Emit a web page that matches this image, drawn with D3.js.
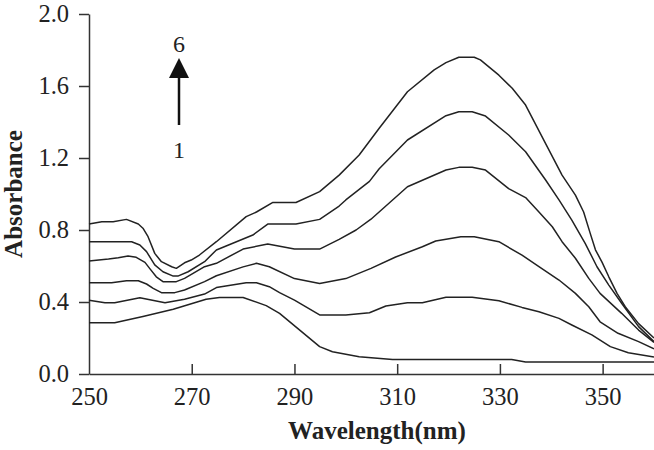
<!DOCTYPE html>
<html>
<head>
<meta charset="utf-8">
<script src="https://cdn.jsdelivr.net/npm/d3@7"></script>
<style>
  body { margin: 0; background: #fff; }
  svg text { font-family: "Liberation Serif", "Times New Roman", serif; fill: #222; }
</style>
</head>
<body>
<div id="container"></div>
<script>
// absorbance spectra, [wavelength nm, absorbance]
const curve1 = [[250,0.285],[255,0.285],[260.5,0.32],[266.4,0.36],[272.8,0.415],[275.4,0.425],[280,0.425],[284.5,0.38],[287.1,0.337],[294.9,0.152],[297.4,0.124],[302.6,0.096],[309.1,0.081],[332.3,0.08],[335,0.067],[360,0.067]];
const curve2 = [[250,0.41],[253.1,0.396],[255,0.396],[259.9,0.424],[264.8,0.396],[268.6,0.415],[272.5,0.444],[274.8,0.48],[280.6,0.507],[282.6,0.507],[285.1,0.485],[287.1,0.452],[290,0.41],[294.9,0.328],[300,0.328],[304.6,0.34],[307.8,0.378],[312,0.396],[314.9,0.396],[319.5,0.426],[324.6,0.426],[329.8,0.407],[334.3,0.37],[337.6,0.346],[341.5,0.309],[344,0.272],[347.9,0.217],[351.5,0.152],[355,0.118],[360,0.095]];
const curve3 = [[250,0.507],[254.4,0.507],[257.3,0.518],[259.6,0.518],[261.2,0.5],[262.5,0.476],[264.1,0.452],[266.7,0.452],[268.6,0.467],[272.5,0.513],[274.8,0.546],[280,0.595],[282.6,0.615],[285.1,0.596],[290,0.53],[294.9,0.503],[300,0.53],[304.9,0.587],[309.7,0.65],[314.9,0.707],[317.5,0.739],[322.4,0.763],[325,0.763],[329.8,0.735],[334.3,0.66],[337.6,0.596],[341.5,0.522],[344.7,0.448],[347.3,0.374],[349.5,0.29],[353,0.226],[357,0.18],[360,0.14]];
const curve4 = [[250,0.628],[253.8,0.639],[255.7,0.646],[257.6,0.655],[259.2,0.648],[260.9,0.62],[261.8,0.587],[263.1,0.54],[264.4,0.513],[267,0.513],[268.6,0.531],[272.5,0.596],[274.8,0.615],[280,0.694],[284.8,0.722],[290,0.694],[294.9,0.694],[298.7,0.748],[302,0.8],[304.9,0.86],[312,1.04],[319.5,1.133],[322,1.148],[324.6,1.148],[327.2,1.133],[331.7,1.03],[335,0.98],[337.6,0.9],[340.2,0.818],[342.1,0.735],[344.7,0.643],[347.3,0.531],[349.5,0.448],[353.7,0.337],[357,0.244],[360,0.175]];
const curve5 = [[250,0.735],[258.3,0.735],[259.9,0.717],[261.2,0.68],[262.8,0.606],[264.4,0.568],[266.4,0.544],[267.3,0.544],[269.3,0.568],[272.5,0.624],[274.8,0.689],[281.9,0.772],[284.8,0.833],[290.3,0.833],[294.9,0.859],[298.7,0.933],[300,0.967],[304.6,1.07],[306.5,1.14],[312,1.3],[319.5,1.435],[322,1.457],[324.6,1.457],[327.2,1.433],[331.7,1.328],[335,1.235],[338.9,1.078],[341.5,0.967],[344,0.855],[346.6,0.726],[348.9,0.596],[351.2,0.494],[353.7,0.393],[357,0.263],[360,0.18]];
const curve6 = [[250,0.833],[252.5,0.846],[254.7,0.846],[257.3,0.859],[259.6,0.833],[260.5,0.81],[261.5,0.763],[262.8,0.67],[264.1,0.624],[266.1,0.596],[267,0.587],[268.6,0.618],[269.9,0.633],[271.5,0.661],[274.8,0.735],[280.6,0.874],[282.6,0.9],[285.8,0.953],[290.3,0.953],[294.9,1.013],[298.7,1.105],[302.6,1.217],[306.5,1.365],[312,1.568],[317.2,1.69],[319.5,1.73],[322,1.76],[325,1.76],[326.2,1.745],[329.8,1.66],[332.4,1.587],[335,1.494],[338.9,1.28],[342.1,1.105],[344.7,0.994],[346.3,0.9],[347.6,0.78],[348.6,0.69],[349.9,0.62],[351.2,0.54],[352.8,0.448],[354.4,0.374],[357,0.28],[360,0.2]];
const curves = [curve1, curve2, curve3, curve4, curve5, curve6];

const xTicks = [250, 270, 290, 310, 330, 350];
const yTicks = [0, 0.4, 0.8, 1.2, 1.6, 2.0];

const width = 654, height = 450;
const marginLeft = 89, plotRight = 654, plotTop = 14, plotBottom = 374;

const svg = d3.select("#container")
  .append("svg")
  .attr("width", width)
  .attr("height", height);

const x = d3.scaleLinear().domain([250, 360]).range([marginLeft, plotRight]);
const y = d3.scaleLinear().domain([0, 2]).range([plotBottom, plotTop]);

// x axis, ticks pointing inward
const gx = svg.append("g")
  .attr("transform", "translate(0," + plotBottom + ")")
  .call(d3.axisBottom(x).tickValues(xTicks).tickFormat(d3.format("d"))
    .tickSizeInner(-10).tickSizeOuter(0).tickPadding(14));

// y axis, ticks pointing outward
const gy = svg.append("g")
  .attr("transform", "translate(" + marginLeft + ",0)")
  .call(d3.axisLeft(y).tickValues(yTicks).tickFormat(d3.format(".1f"))
    .tickSize(10).tickSizeOuter(0).tickPadding(10));

svg.selectAll(".domain, .tick line")
  .attr("stroke", "#333")
  .attr("stroke-width", 1.5);
svg.selectAll(".tick text")
  .style("font-family", "'Liberation Serif', serif")
  .style("font-size", "24.5px")
  .attr("fill", "#222");
gx.select(".tick:first-of-type line").remove();

const line = d3.line()
  .x(d => x(d[0]))
  .y(d => y(d[1]));

svg.append("g")
  .selectAll("path")
  .data(curves)
  .join("path")
  .attr("fill", "none")
  .attr("stroke", "#222")
  .attr("stroke-width", 1.5)
  .attr("stroke-linejoin", "round")
  .attr("d", line);

// axis titles
svg.append("text")
  .attr("x", 377)
  .attr("y", 439)
  .attr("text-anchor", "middle")
  .style("font-size", "25px")
  .style("font-weight", "bold")
  .text("Wavelength(nm)");

svg.append("text")
  .attr("transform", "translate(22," + (plotTop + plotBottom) / 2 + ") rotate(-90)")
  .attr("text-anchor", "middle")
  .style("font-size", "25px")
  .style("font-weight", "bold")
  .text("Absorbance");

// arrow from curve 1 to curve 6
const ax = 179;
svg.append("line")
  .attr("x1", ax).attr("x2", ax)
  .attr("y1", 125).attr("y2", 76)
  .attr("stroke", "#111")
  .attr("stroke-width", 2.5);
svg.append("path")
  .attr("d", "M" + ax + ",58 L" + (ax - 10) + ",78 L" + (ax + 10) + ",78 Z")
  .attr("fill", "#111");
svg.append("text")
  .attr("x", ax).attr("y", 52)
  .attr("text-anchor", "middle")
  .style("font-size", "24px")
  .text("6");
svg.append("text")
  .attr("x", ax).attr("y", 158)
  .attr("text-anchor", "middle")
  .style("font-size", "24px")
  .text("1");
</script>
</body>
</html>
